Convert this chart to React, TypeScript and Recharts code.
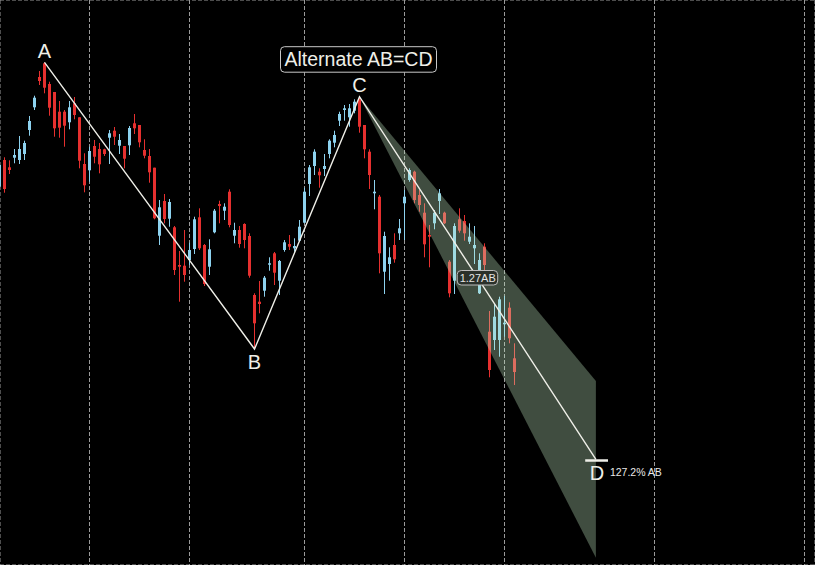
import {
  Area,
  Bar,
  CartesianGrid,
  ComposedChart,
  Line,
  ReferenceDot,
  ReferenceLine,
  XAxis,
  YAxis,
} from "recharts";

// Daily candles, first visible bar is index -1 (cut by the left edge)
const firstBar = -1;
const opens = [
  413.3, 440, 432.7, 442.3, 440, 446, 470, 492.7, 523, 536.7,
  516, 508, 488.3, 488.3, 477.7, 496.7, 482.7, 436, 429.7, 454,
  451, 450.7, 462.3, 469.3, 454.3, 454, 454.7, 476.7, 475, 450,
  444, 432.3, 364.3, 399, 381.3, 372.7, 335, 334.3, 340, 351,
  382.7, 355, 333.3, 367.7, 396, 389.3, 408.3, 364.3, 370, 376,
  364, 305, 298.3, 309.3, 335.3, 346.7, 319.3, 350, 356, 351.7,
  359.3, 377.3, 416, 434, 428.3, 431, 446, 457.3, 479.3, 490,
  482.7, 489.3, 500.7, 475, 448.3, 406.7, 403.3, 328.3, 336, 355,
  366.7, 396.7, 420, 428.3, 405, 387.3, 365, 376.7, 399, 387.3,
  338.3, 319.3, 380.7, 379, 358.3, 351.7, 306.7, 353.3, 268.3, 260,
  260, 275.7, 292.3, 241.7,
];
const closes = [
  435, 411, 430, 445, 451, 457, 479, 502.3, 519, 512.3,
  492.3, 471.7, 472.3, 474.3, 492.7, 485, 439.3, 414.7, 449, 443.3,
  435.7, 446, 466.7, 463.3, 460, 441.3, 472, 471.7, 457.7, 444.3,
  427.7, 381.7, 392.7, 381, 398, 330, 333.3, 325, 350, 380.7,
  351.7, 316, 350.7, 389.3, 394, 393.3, 375, 370, 356, 360,
  324.3, 276.7, 296, 322.3, 336.7, 327.3, 339, 357.7, 353.3, 354,
  373.3, 408.3, 432.7, 448.3, 424.7, 434, 459.3, 465, 486, 491.7,
  491.7, 498.3, 473.3, 450.7, 425, 408.3, 346.7, 364, 342.7, 340.7,
  371.7, 403.3, 430, 400, 395, 355.7, 363.3, 387.3, 406.7, 376.7,
  306.7, 374, 369.3, 366.7, 363.3, 355, 340, 335, 230, 283.3,
  300.7, 277.3, 261.7, 228,
];
const highs = [
  437, 442.7, 439.7, 451, 464, 459.3, 484, 504.3, 529, 537.7,
  518.3, 508, 499, 490, 499, 503, 482.7, 446.7, 453.3, 460,
  457, 451.3, 470, 473, 466, 454, 474, 486, 475, 460.7,
  451, 432.3, 400, 406, 401, 374, 349, 370, 357.3, 383.3,
  391.7, 356, 360.7, 391, 399.3, 396.7, 410.7, 377.3, 374, 376.7,
  366.7, 306.7, 319, 324, 342.7, 348, 340, 360, 365, 361.7,
  380, 412.3, 435, 450.7, 431.7, 446, 460.7, 469.3, 488.3, 495,
  496, 500.7, 503.3, 475, 450.7, 420, 405, 368.3, 352.7, 366.7,
  381, 410, 431.7, 429.3, 410, 396.7, 375, 390, 411, 388.3,
  340, 376.7, 391.7, 385, 376.7, 374, 346.7, 356.7, 289, 296.7,
  303.3, 304, 297.7, 256.7,
];
const lows = [
  412, 407.3, 426, 436.7, 436, 440, 464.3, 490, 515, 506.7,
  484.3, 463.3, 462.3, 453.3, 470.7, 480.7, 431.7, 407.7, 418.3, 436.7,
  426.7, 444, 436, 455, 446, 431.7, 445, 466, 452.7, 441.7,
  417.3, 380.7, 355, 376.7, 373.3, 325, 298.3, 318.3, 335, 346,
  350, 314, 325, 366.7, 376.7, 380, 372.7, 356.7, 352.3, 351.7,
  322.3, 251, 286.7, 303.3, 329.3, 315, 305, 348.3, 350, 348.3,
  358.3, 376.7, 404, 425, 412.3, 424, 441.7, 452.7, 474, 479.3,
  473.3, 486.7, 467.3, 441.7, 411, 390.7, 326.7, 306, 319.3, 337.3,
  360, 360, 418.3, 396.7, 388.3, 342.7, 332.7, 370.7, 386, 376,
  302.7, 306, 367.3, 359.3, 356, 336, 306, 330, 222.7, 250,
  243.3, 263.3, 256.7, 215,
];

// vertical date separators (bar index)
const gridBars = [17, 37, 60, 80, 100, 130, 160];
const topTicks = [599.5];

// AB=CD pivots
const pivotNames = ["A", "B", "C", "D"];
const pivotBars = [8, 50, 71, 118.28];
const pivotPrices = [537.7, 251, 503.3, 140.7];

// projection cone from C to the D bar
const coneBars = [71, 118.28];
const coneLow = [503.3, 42.3];
const coneHigh = [503.3, 219];

const titleText = "Alternate AB=CD";
const ratioText = "1.27AB";
const targetText = "127.2% AB";

const UP = "#8dd2ef";
const DOWN = "#e6302f";
const INK = "#efefe8";
const FONT = "'Liberation Sans', Arial, sans-serif";

const candles = opens.map((open, k) => ({
  i: k + firstBar,
  open,
  close: closes[k],
  high: highs[k],
  low: lows[k],
}));
const pivots = pivotNames.map((name, k) => ({
  name,
  i: pivotBars[k],
  p: pivotPrices[k],
}));
const cone = coneBars.map((i, k) => ({ i, band: [coneLow[k], coneHigh[k]] }));

function Candle(props: any) {
  const { x, y, width, height, payload } = props;
  if (!payload || !isFinite(x) || !isFinite(y)) return null;
  const { open, close, high, low } = payload;
  const cx = Math.floor(x + width / 2) + 0.5;
  const span = high - low || 1;
  const py = (v: number) => y + ((high - v) / span) * height;
  const top = py(Math.max(open, close));
  const bot = py(Math.min(open, close));
  const color = close >= open ? UP : DOWN;
  return (
    <g>
      <rect x={cx - 0.5} y={y} width={1} height={Math.max(1, height)} fill={color} />
      <rect x={cx - 1.5} y={top} width={3} height={Math.max(1, bot - top)} fill={color} />
    </g>
  );
}

const letterOffset: Record<string, [number, number]> = {
  A: [0, -4],
  B: [0, 20],
  C: [0, -4.5],
  D: [1, 21],
};

// invisible anchor props for text-only reference dots
const anchor = { r: 0, fill: "none", stroke: "none" };

export default function App() {
  const C = pivots[2];
  const D = pivots[3];
  const mid = { i: (C.i + D.i) / 2, p: (C.p + D.p) / 2 };
  return (
    <div
      style={{
        position: "absolute",
        left: 0,
        top: 0,
        width: 815,
        height: 565,
        background: "#000",
      }}
    >
      <ComposedChart
        width={815}
        height={565}
        data={candles}
        margin={{ top: 0, right: 0, bottom: 0, left: 0 }}
      >
        <CartesianGrid
          stroke="#9a9a9a"
          strokeDasharray="4 2"
          vertical
          horizontal
        />
        <XAxis
          type="number"
          dataKey="i"
          domain={[-0.9, 162.1]}
          allowDataOverflow
          ticks={gridBars}
          hide
        />
        <YAxis
          type="number"
          domain={[35, 600]}
          allowDataOverflow
          ticks={topTicks}
          hide
        />
        <Bar
          dataKey={(d: any) => [d.low, d.high]}
          barSize={3}
          shape={Candle}
          isAnimationActive={false}
        />
        <Area
          data={cone}
          dataKey="band"
          type="linear"
          stroke="none"
          fill="#c8f0c8"
          fillOpacity={0.32}
          dot={false}
          activeDot={false}
          zIndex={350}
          isAnimationActive={false}
        />
        <Line
          data={pivots}
          dataKey="p"
          type="linear"
          stroke={INK}
          strokeWidth={1.4}
          dot={false}
          activeDot={false}
          isAnimationActive={false}
        />
        <ReferenceLine
          segment={[
            { x: 116.14, y: 139.5 },
            { x: 120.7, y: 139.5 },
          ]}
          stroke={INK}
          strokeWidth={2.5}
        />
        {pivots.map((pt) => (
          <ReferenceDot
            key={pt.name}
            x={pt.i}
            y={pt.p}
            {...anchor}
            shape={(s: any) => (
              <text
                x={s.cx + letterOffset[pt.name][0]}
                y={s.cy + letterOffset[pt.name][1]}
                textAnchor="middle"
                fill={INK}
                fontSize={20}
                fontFamily={FONT}
              >
                {pt.name}
              </text>
            )}
          />
        ))}
        <ReferenceDot
          x={C.i}
          y={C.p}
          {...anchor}
          shape={(s: any) => (
            <g>
              <rect
                x={s.cx - 79}
                y={s.cy - 50}
                width={156}
                height={25.5}
                rx={4}
                fill="#000"
                stroke="#c8c8c8"
              />
              <text
                x={s.cx - 1}
                y={s.cy - 30.5}
                textAnchor="middle"
                fill={INK}
                fontSize={19.5}
                fontFamily={FONT}
              >
                {titleText}
              </text>
            </g>
          )}
        />
        <ReferenceDot
          x={mid.i}
          y={mid.p}
          {...anchor}
          shape={(s: any) => (
            <g>
              <rect
                x={s.cx - 20.5}
                y={s.cy - 7.5}
                width={40.5}
                height={14.5}
                rx={4}
                fill="#2a302a"
                stroke="#bdbdbd"
              />
              <text
                x={s.cx}
                y={s.cy + 4}
                textAnchor="middle"
                fill="#e4e4e4"
                fontSize={11}
                fontFamily={FONT}
              >
                {ratioText}
              </text>
            </g>
          )}
        />
        <ReferenceDot
          x={D.i}
          y={D.p}
          {...anchor}
          shape={(s: any) => (
            <text
              x={s.cx + 14}
              y={s.cy + 16.5}
              fill="#e8e8e8"
              fontSize={10.5}
              fontFamily={FONT}
            >
              {targetText}
            </text>
          )}
        />
      </ComposedChart>
    </div>
  );
}
